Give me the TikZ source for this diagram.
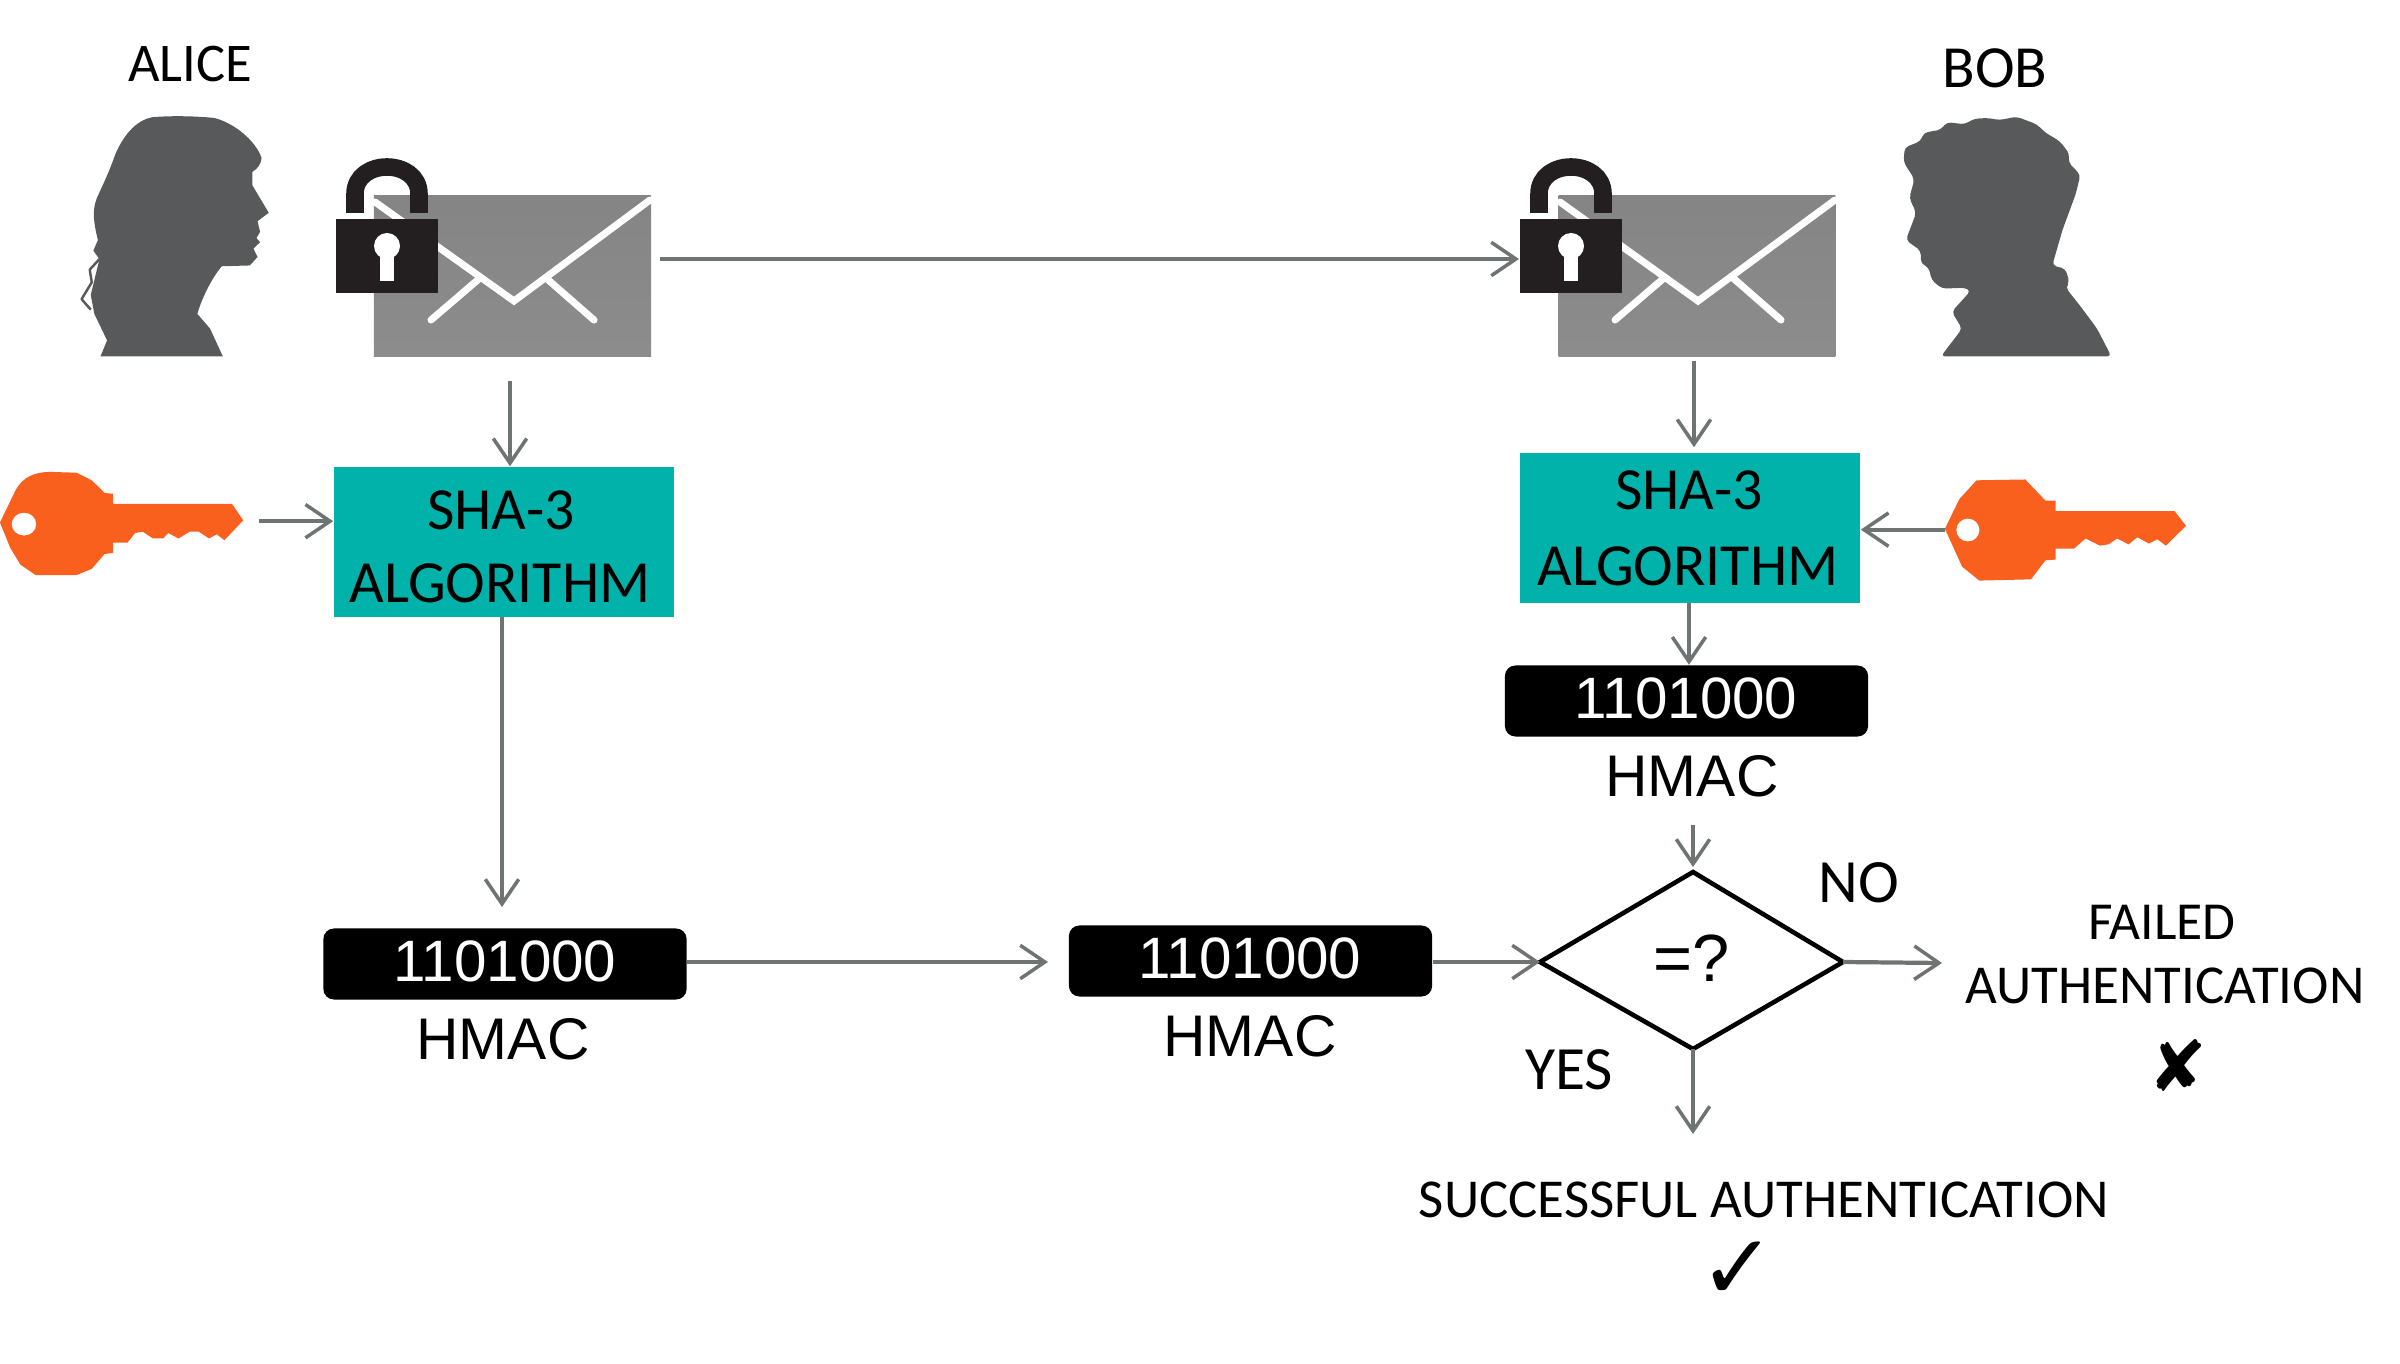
\documentclass[tikz,border=0pt]{standalone}
\usepackage{fontspec}
\setmainfont{Carlito}
\newfontfamily\arialf{Liberation Sans}
\newfontfamily\symf{DejaVu Sans}
\usetikzlibrary{arrows.meta,shapes.geometric}
\definecolor{silh}{HTML}{58595B}
\definecolor{teal1}{HTML}{00B2A9}
\definecolor{lockc}{HTML}{231F20}
\definecolor{keyc}{HTML}{F95F1D}
\definecolor{arr}{HTML}{6E7473}
\tikzset{
  flow/.style={draw=arr,line width=1.2pt,-{Straight Barb[length=7pt,width=9.5pt,line width=1pt]}},
  shabox/.style={rectangle,fill=teal1,minimum width=3.4cm,minimum height=1.5cm,inner sep=0pt},
  hmacbox/.style={rectangle,rounded corners=3pt,fill=black,minimum width=3.63cm,minimum height=0.71cm,inner sep=0pt},
  label/.style={inner sep=0pt,font=\fontsize{15.6pt}{17pt}\selectfont},
  shalab/.style={inner sep=0pt,font=\fontsize{17pt}{18pt}\selectfont},
  numlab/.style={inner sep=0pt,text=white,font=\arialf\fontsize{16.6pt}{18pt}\selectfont},
  hmaclab/.style={inner sep=0pt,font=\arialf\fontsize{16.7pt}{18pt}\selectfont},
  env/.style={rectangle,top color=black!48,bottom color=black!45,draw=none,minimum height=1.6cm,inner sep=0pt},
  flap/.style={draw=white,line width=2pt,line cap=round,line join=miter},
  lockic/.pic={
    \draw[lockc,line width=5pt] (-32,-43) -- (-32,-62) .. controls (-32,-98) and (32,-98) .. (32,-62) -- (32,-43);
    \fill[lockc] (-51,-37) rectangle (51,37);
    \fill[white] (0,-10) circle (13) ;
    \fill[white] (-7,-5) rectangle (7,25);
  }
}
\begin{document}
\begin{tikzpicture}[x=0.01cm,y=-0.01cm]
\useasboundingbox (0,0) rectangle (2400,1364);
% Alice
\node[label,font=\fontsize{15.5pt}{17pt}\selectfont] (alice) at (190,64) {ALICE};
\begin{scope}[x=0.005102cm,y=-0.004209cm]
\fill[silh] (197,846) -- (210,808) -- (185,745) -- (178,700) -- (188,650) -- (195,615) -- (183,595) -- (192,570)
  .. controls (184,530) and (180,500) .. (190,470) .. controls (205,430) and (215,405) .. (225,370)
  .. controls (240,325) and (265,285) .. (300,278) .. controls (340,274) and (390,276) .. (420,280)
  .. controls (455,290) and (500,330) .. (513,375) .. controls (512,390) and (505,400) .. (495,408)
  -- (495,440) -- (527,505) -- (505,525) -- (510,550) -- (503,565) -- (510,575) -- (497,590) -- (505,610) -- (490,630) -- (435,632)
  .. controls (415,660) and (395,710) .. (387,745) -- (412,780) -- (437,846) -- cycle;
\draw[silh,line width=0.7pt,line join=round] (195,615) -- (176,640) -- (180,670) -- (160,710) -- (178,735);
% left key
\fill[keyc] (0,1240) -- (30,1165) .. controls (45,1130) and (70,1120) .. (100,1120) -- (150,1122) -- (180,1140) -- (205,1170) -- (222,1172) -- (222,1196) -- (455,1196) -- (477,1235) -- (440,1282) -- (425,1268) -- (410,1278) -- (390,1262) -- (372,1262) -- (350,1278) -- (330,1265) -- (320,1278) -- (300,1278) -- (280,1262) -- (265,1265) -- (250,1288) -- (222,1288) -- (222,1312) -- (205,1315) -- (180,1350) -- (150,1365) -- (70,1365) -- (40,1340) -- (20,1300) -- cycle;
\fill[white] (47,1244) ellipse (24 and 27);
\coordinate (kl) at (507,1237);
\end{scope}
% Bob
\node[label,font=\fontsize{17pt}{18pt}\selectfont] (bob) at (1995,68) {BOB};
\begin{scope}[shift={(1500,0)},x=0.00574cm,y=-0.004209cm]
\fill[silh,rounded corners=1.2pt] (768,846) -- (805,780) -- (787,740) -- (820,690) -- (810,683) -- (770,685) -- (752,665) -- (747,635) -- (733,625) -- (733,595) -- (707,570) -- (725,505) -- (713,470) -- (722,425) -- (703,385) -- (705,350) -- (733,335) -- (738,315) -- (768,308) -- (778,290) -- (810,295) -- (825,282) -- (850,280) -- (870,285) -- (900,277) -- (935,295) -- (950,315) -- (975,335) -- (992,365) -- (990,385) -- (1011,415) -- (1003,460) -- (980,545) -- (962,630) -- (985,638) -- (992,670) -- (985,682) -- (1010,725) -- (1040,780) -- (1065,846) -- cycle;
% right key
\fill[keyc] (775,1255) -- (800,1185) -- (830,1140) -- (915,1138) -- (950,1188) -- (968,1188) -- (968,1213) -- (1175,1213) -- (1195,1248) -- (1160,1295) -- (1145,1280) -- (1130,1290) -- (1110,1275) -- (1095,1292) -- (1075,1278) -- (1060,1292) -- (1045,1295) -- (1020,1278) -- (1000,1302) -- (968,1302) -- (968,1328) -- (950,1330) -- (925,1375) -- (835,1378) -- (805,1345) -- cycle;
\fill[white] (815,1258) ellipse (20 and 27);
\coordinate (kr) at (775,1257);
\end{scope}
% envelopes
\node[env,minimum width=2.77cm] (enva) at (512.5,276) {};
\draw[flap] (375,202) -- (514,301) -- (650,200);
\draw[flap] (431,320) -- (480,278);
\draw[flap] (594,320) -- (546,278);
\pic at (387,256) {lockic};
\node[env,minimum width=2.765cm] (envb) at (1697,276) {};
\draw[flap] (1560,202) -- (1698,301) -- (1835,200);
\draw[flap] (1615,320) -- (1664,278);
\draw[flap] (1781,320) -- (1733,278);
\pic at (1571,256) {lockic};
% SHA boxes
\node[shabox] (shaa) at (504,542) {};
\node[shalab] (shaa1) at (501,510) {SHA-3};
\node[shalab] (shaa2) at (500,583) {ALGORITHM};
\node[shabox] (shab) at (1690,528) {};
\node[shalab] (shab1) at (1689,490) {SHA-3};
\node[shalab] (shab2) at (1688,566) {ALGORITHM};
% HMAC
\node[hmacbox] (ha) at (505,964) {};
\node[numlab] (hat) at (505,961) {1101000};
\node[hmaclab] (hal) at (503,1039) {HMAC};
\node[hmacbox] (hc) at (1250.5,961) {};
\node[numlab] (hct) at (1250,958) {1101000};
\node[hmaclab] (hcl) at (1250,1036) {HMAC};
\node[hmacbox] (hb) at (1686.5,701) {};
\node[numlab] (hbt) at (1686,698) {1101000};
\node[hmaclab] (hbl) at (1692,776) {HMAC};
% decision
\draw[black,line width=1.3pt,line join=miter] (1540,962) coordinate (dw) -- (1693,872) coordinate (dn) -- (1843,962) coordinate (de) -- (1693,1049) coordinate (ds) -- cycle;
\node[inner sep=0pt,font=\arialf\fontsize{19pt}{20pt}\selectfont] (eq) at (1692,958) {=?};
\node[label,font=\fontsize{17.5pt}{18pt}\selectfont] (no) at (1859,883) {NO};
\node[label,font=\fontsize{17.5pt}{18pt}\selectfont] (yes) at (1569,1070) {YES};
\node[label,font=\fontsize{15.2pt}{17pt}\selectfont] (failed) at (2162,922) {FAILED};
\node[label] (auth) at (2165,986) {AUTHENTICATION};
\node[inner sep=0pt,font=\symf\fontsize{20pt}{22pt}\selectfont] (xm) at (2178,1065) {✘};
\node[label] (succ) at (1764,1200) {SUCCESSFUL AUTHENTICATION};
\node[inner sep=0pt,font=\symf\fontsize{26pt}{28pt}\selectfont] (cm) at (1738,1271) {✓};
% free ends
\coordinate (p1) at (660,259);
\coordinate (p2) at (1519,259);
\coordinate (p3) at (510,381);
\coordinate (p4) at (1694,361);
\coordinate (p5) at (502,617);
\coordinate (p6) at (502,907);
\coordinate (p7) at (1048,962);
\coordinate (p8) at (1693,825);
\coordinate (p9) at (1689,603);
\coordinate (p10) at (1942,963);
\coordinate (p11) at (1693,1134);
% connectors
\draw[flow] (p1) -- (p2);
\draw[flow] (p3) -- (p3 |- shaa.north);
\draw[flow] (p4) -- ([yshift=0.05cm]p4 |- shab.north);
\draw[flow] (kl) -- (kl -| shaa.west);
\draw[flow] (kr) -- (kr -| shab.east);
\draw[flow] (p5) -- (p6);
\draw[flow] (p9) -- (p9 |- hb.north);
\draw[flow] (p7 -| ha.east) -- (p7);
\draw[flow] (dw -| hc.east) -- (dw);
\draw[flow] (p8) -- ([yshift=0.05cm]dn);
\draw[flow] (de) -- (p10);
\draw[flow] (ds) -- (p11);
\end{tikzpicture}
\end{document}
